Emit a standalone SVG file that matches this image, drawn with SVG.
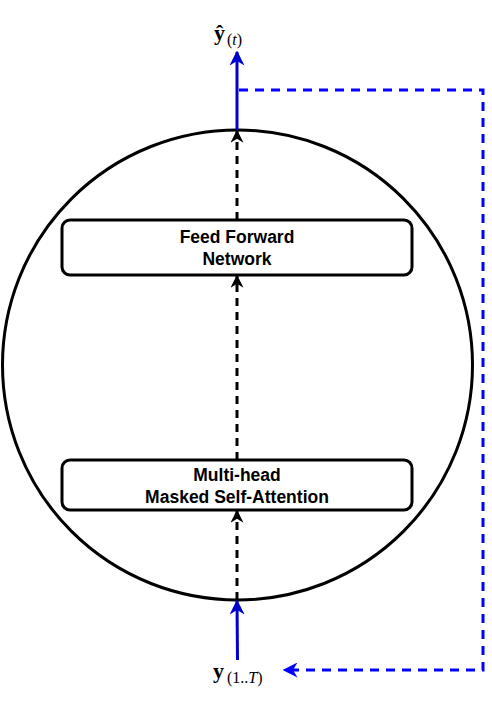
<svg xmlns="http://www.w3.org/2000/svg" width="492" height="703" viewBox="0 0 492 703">
<style>
.box{fill:#fff;stroke:#000;stroke-width:3}
.lbl{font-family:"Liberation Sans",Arial,sans-serif;font-weight:bold;font-size:17.5px;text-anchor:middle;fill:#000}
.dash{stroke:#000;stroke-width:3;stroke-dasharray:8 6;fill:none}
.blue{stroke:#0000cc;stroke-width:3;fill:none}
.bdash{stroke:#0000ff;stroke-width:3;stroke-dasharray:9 7;fill:none}
.math{font-family:"Liberation Serif","Times New Roman",serif;fill:#000}
</style>
<defs>
<marker id="ab" viewBox="0 0 10 10" refX="9" refY="5" markerWidth="13" markerHeight="13" markerUnits="userSpaceOnUse" orient="auto"><path d="M0,0 L10,5 L0,10 L3,5 Z" fill="#000"/></marker>
<marker id="au" viewBox="0 0 10 10" refX="9" refY="5" markerWidth="15" markerHeight="15" markerUnits="userSpaceOnUse" orient="auto"><path d="M0,0 L10,5 L0,10 L3,5 Z" fill="#0000cc"/></marker>
<marker id="ad" viewBox="0 0 10 10" refX="9" refY="5" markerWidth="15" markerHeight="15" markerUnits="userSpaceOnUse" orient="auto"><path d="M0,0 L10,5 L0,10 L3,5 Z" fill="#0000ff"/></marker>
</defs>
<g id="circle"><circle cx="237.5" cy="365" r="235" fill="none" stroke="#000" stroke-width="3"/></g>
<g id="connectors">
<line class="dash" x1="237" y1="600" x2="237" y2="511" marker-end="url(#ab)"/>
<line class="dash" x1="237" y1="460" x2="237" y2="276" marker-end="url(#ab)"/>
<line class="dash" x1="237" y1="220" x2="237" y2="131" marker-end="url(#ab)"/>
<line class="blue" x1="237.5" y1="660" x2="237" y2="601" marker-end="url(#au)"/>
<line class="blue" x1="237" y1="130" x2="237" y2="52" marker-end="url(#au)"/>
<polyline class="bdash" points="239,90 483,90 483,670 284,670" marker-end="url(#ad)"/>
</g>
<g id="ffn"><rect class="box" x="62" y="220" width="350" height="55" rx="8"/>
<text class="lbl" x="237" y="243">Feed Forward</text><text class="lbl" x="237" y="265">Network</text></g>
<g id="mha"><rect class="box" x="62" y="460" width="350" height="50" rx="8"/>
<text class="lbl" x="237" y="481">Multi-head</text><text class="lbl" x="237" y="503">Masked Self-Attention</text></g>
<g id="out"><text class="math" x="214" y="40" font-size="22" font-weight="bold">ŷ</text><text class="math" x="227" y="45" font-size="16">(<tspan font-style="italic">t</tspan>)</text></g>
<g id="in"><text class="math" x="213" y="678" font-size="22" font-weight="bold">y</text><text class="math" x="227" y="683" font-size="16">(1..<tspan font-style="italic">T</tspan>)</text></g>
</svg>
